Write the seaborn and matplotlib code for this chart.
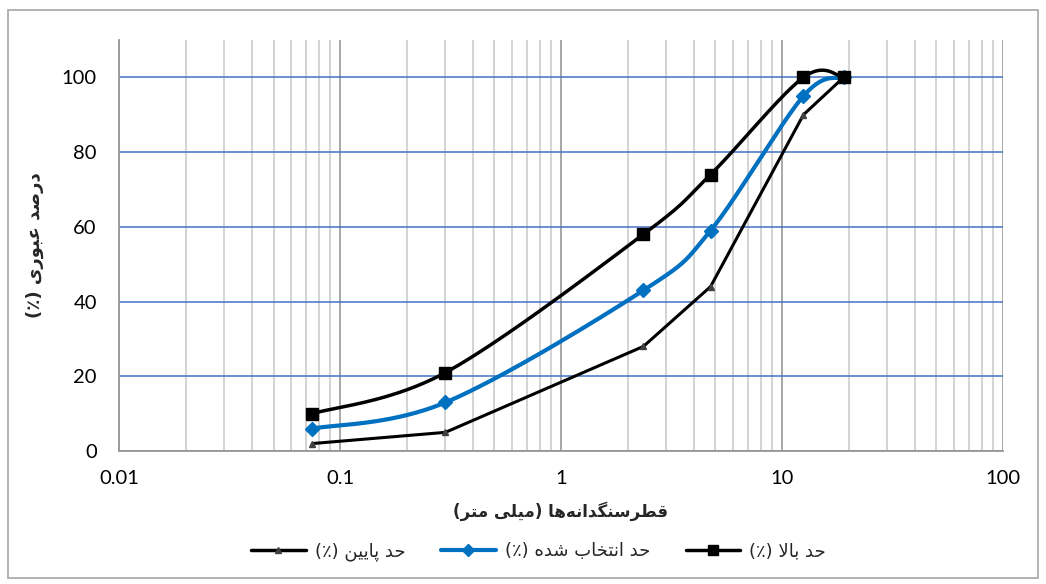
import matplotlib
matplotlib.use("Agg")
import matplotlib.pyplot as plt
from matplotlib.lines import Line2D
from matplotlib.patches import Rectangle
import numpy as np
import pandas as pd
import seaborn as sns

# sieve sizes (mm) and passing percentages
sizes = [0.075, 0.3, 2.36, 4.75, 12.5, 19]
upper = [10, 21, 58, 74, 100, 100]
selected = [6, 13, 43, 59, 95, 100]
lower = [2, 5, 28, 44, 90, 100]

ylabel_txt = "درصد عبوری (٪)"
xlabel_txt = "قطرسنگدانه\u200cها (میلی متر)"
lower_name = "حد پایین (٪)"
selected_name = "حد انتخاب شده (٪)"
upper_name = "حد بالا (٪)"

x_ticks = [0.01, 0.1, 1, 10, 100]
x_ticklabels = ["0.01", "0.1", "1", "10", "100"]
y_ticks = [0, 20, 40, 60, 80, 100]

# matplotlib has no arabic shaping, so map letters to presentation forms by hand
FORMS = {
    "ا": (0xFE8D, 0xFE8E, None, None),
    "ب": (0xFE8F, 0xFE90, 0xFE91, 0xFE92),
    "ت": (0xFE95, 0xFE96, 0xFE97, 0xFE98),
    "ح": (0xFEA1, 0xFEA2, 0xFEA3, 0xFEA4),
    "خ": (0xFEA5, 0xFEA6, 0xFEA7, 0xFEA8),
    "د": (0xFEA9, 0xFEAA, None, None),
    "ر": (0xFEAD, 0xFEAE, None, None),
    "س": (0xFEB1, 0xFEB2, 0xFEB3, 0xFEB4),
    "ش": (0xFEB5, 0xFEB6, 0xFEB7, 0xFEB8),
    "ص": (0xFEB9, 0xFEBA, 0xFEBB, 0xFEBC),
    "ط": (0xFEC1, 0xFEC2, 0xFEC3, 0xFEC4),
    "ع": (0xFEC9, 0xFECA, 0xFECB, 0xFECC),
    "ق": (0xFED5, 0xFED6, 0xFED7, 0xFED8),
    "ل": (0xFEDD, 0xFEDE, 0xFEDF, 0xFEE0),
    "م": (0xFEE1, 0xFEE2, 0xFEE3, 0xFEE4),
    "ن": (0xFEE5, 0xFEE6, 0xFEE7, 0xFEE8),
    "ه": (0xFEE9, 0xFEEA, 0xFEEB, 0xFEEC),
    "و": (0xFEED, 0xFEEE, None, None),
    "ی": (0xFBFC, 0xFBFD, 0xFBFE, 0xFBFF),
    "پ": (0xFB56, 0xFB57, 0xFB58, 0xFB59),
    "گ": (0xFB92, 0xFB93, 0xFB94, 0xFB95),
}


def joins_next(c):
    return c in FORMS and FORMS[c][2] is not None


def rtl(text):
    res = []
    i = 0
    while i < len(text):
        c = text[i]
        if c not in FORMS:
            res.append(c)
            i += 1
            continue
        prev_join = i > 0 and joins_next(text[i - 1])
        if c == "ل" and i + 1 < len(text) and text[i + 1] == "ا":
            res.append(chr(0xFEFC if prev_join else 0xFEFB))
            i += 2
            continue
        nxt = text[i + 1] if i + 1 < len(text) else ""
        next_join = joins_next(c) and nxt in FORMS
        iso, fin, ini, med = FORMS[c]
        if prev_join and next_join:
            g = med
        elif prev_join:
            g = fin
        elif next_join:
            g = ini
        else:
            g = iso
        res.append(chr(g))
        i += 1
    out = "".join(reversed(res)).replace("\u200c", "")
    return out.translate(str.maketrans("()", ")("))


def smooth(xs, ys, n=40):
    # excel-like smoothed line (catmull-rom bezier in log-x space)
    P = np.column_stack([np.log10(xs), np.asarray(ys, float)])
    P = np.vstack([P[0], P, P[-1]])
    t = np.linspace(0, 1, n)[:, None]
    segs = []
    for i in range(1, len(P) - 2):
        p0, p3 = P[i], P[i + 1]
        c1 = p0 + (P[i + 1] - P[i - 1]) / 6
        c2 = p3 - (P[i + 2] - P[i]) / 6
        segs.append((1 - t) ** 3 * p0 + 3 * (1 - t) ** 2 * t * c1
                    + 3 * (1 - t) * t ** 2 * c2 + t ** 3 * p3)
    S = np.vstack(segs)
    return pd.DataFrame({"x": 10 ** S[:, 0], "y": S[:, 1]})


sns.set_theme(style="white")
plt.rcParams["font.family"] = ["Lato", "DejaVu Sans"]
ar_font = ["DejaVu Sans"]

fig = plt.figure(figsize=(10.46, 5.84), dpi=100)
ax = fig.add_axes([0.1138, 0.2277, 0.8451, 0.7038])

blue = "#0070C0"

up_df = smooth(sizes, upper)
sel_df = smooth(sizes, selected)
low_df = pd.DataFrame({"x": sizes, "y": lower})

sns.lineplot(data=low_df, x="x", y="y", ax=ax, color="black", lw=2.2,
             sort=False, estimator=None, zorder=3)
ax.plot(sizes, lower, ls="none", marker="^", ms=5, color="#404040", zorder=4)

sns.lineplot(data=sel_df, x="x", y="y", ax=ax, color=blue, lw=3,
             sort=False, estimator=None, zorder=3)
ax.plot(sizes, selected, ls="none", marker="D", ms=7, color=blue, zorder=4)

sns.lineplot(data=up_df, x="x", y="y", ax=ax, color="black", lw=2.5,
             sort=False, estimator=None, zorder=3)
ax.plot(sizes, upper, ls="none", marker="s", ms=8, color="black", zorder=4)

ax.set_xscale("log")
ax.set_xlim(0.01, 100)
ax.set_ylim(0, 110)
ax.set_xticks(x_ticks)
ax.set_xticklabels(x_ticklabels)
ax.set_yticks(y_ticks)
ax.tick_params(axis="both", labelsize=14.5, colors="#000000")
ax.tick_params(axis="x", which="major", length=4, color="#888888", pad=10)
ax.tick_params(axis="x", which="minor", length=0)
ax.tick_params(axis="y", length=0, pad=16)

ax.grid(False)
ax.yaxis.grid(True, color="#4472C4", lw=1.1)
ax.xaxis.grid(True, which="major", color="#A0A0A0", lw=1.3)
ax.xaxis.grid(True, which="minor", color="#D0D0D0", lw=1.3)
ax.set_axisbelow(True)

for s in ["top", "right"]:
    ax.spines[s].set_visible(False)
for s in ["left", "bottom"]:
    ax.spines[s].set_color("#999999")
    ax.spines[s].set_linewidth(1.3)

ax.set_xlabel(rtl(xlabel_txt), fontsize=12, fontweight="bold",
              family=ar_font, labelpad=10)
ax.set_ylabel(rtl(ylabel_txt), fontsize=13, fontweight="bold",
              family=ar_font, labelpad=13)

handles = [
    Line2D([], [], color="black", lw=2.5, marker="^", ms=4, mfc="#404040", mec="#404040"),
    Line2D([], [], color=blue, lw=3, marker="D", ms=6),
    Line2D([], [], color="black", lw=2.5, marker="s", ms=7),
]
labels = [rtl(lower_name), rtl(selected_name), rtl(upper_name)]
fig.legend(handles, labels, loc="center", bbox_to_anchor=(0.515, 0.056),
           ncol=3, frameon=False, handlelength=3.0, columnspacing=2.0,
           handletextpad=0.5, prop={"family": ar_font, "size": 13})

fig.patches.append(Rectangle((8 / 1046, 1 - 578 / 584), 1030 / 1046, 568 / 584,
                             transform=fig.transFigure, fill=False,
                             edgecolor="#A6A6A6", lw=1.2))

fig.savefig("out.png", dpi=100, facecolor="white")
